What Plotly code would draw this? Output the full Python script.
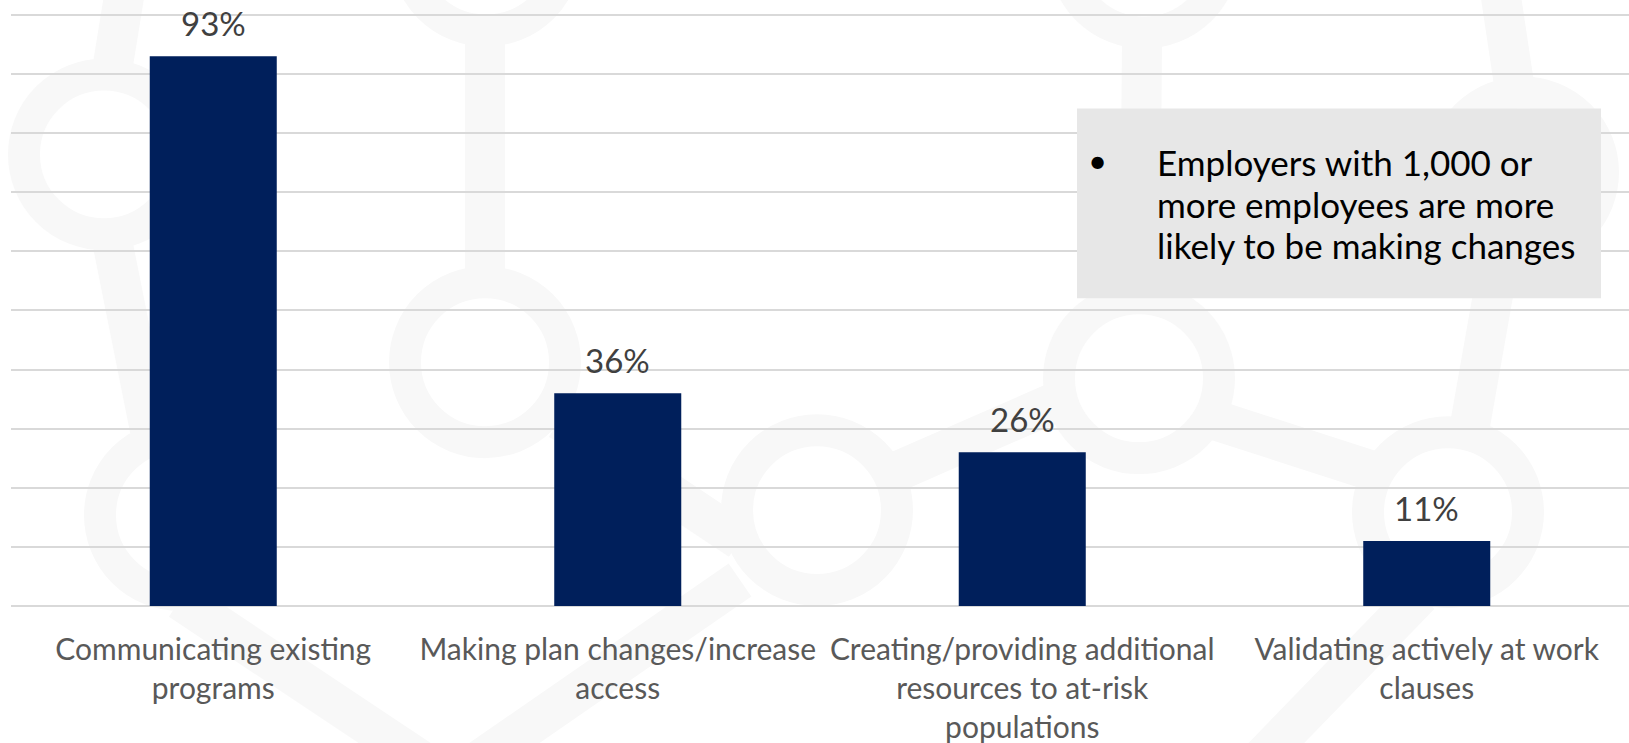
import plotly.graph_objects as go

# Survey responses: share of employers taking each action
categories = [
    "Communicating existing<br>programs",
    "Making plan changes/increase<br>access",
    "Creating/providing additional<br>resources to at-risk<br>populations",
    "Validating actively at work<br>clauses",
]
values = [93, 36, 26, 11]
value_labels = ["93%", "36%", "26%", "11%"]

callout_lines = [
    "Employers with 1,000 or",
    "more employees are more",
    "likely to be making changes",
]

BAR_COLOR = "#001F5B"
VALUE_COLOR = "#404040"
CAT_COLOR = "#595959"
GRID_COLOR = "#D9D9D9"
MARK_COLOR = "#F8F8F8"
FONT = "Lato"

W, H = 1629, 743
M_L, M_R, M_T, M_B = 11, 0, 11.5, 137
PW, PH = W - M_L - M_R, H - M_T - M_B


def px(x):
    """pixel column -> paper x"""
    return (x - M_L) / PW


def py(y):
    """pixel row (from top) -> paper y"""
    return (H - M_B - y) / PH


fig = go.Figure()

# faint network watermark behind the chart: rings joined by thick links
rings = [(104, 154), (486, -50), (485, 362), (180, 515), (817, 510),
         (1144, -48), (1139, 378), (1523, 172), (1448, 512)]
links = [((125, -10), (112, 70)), ((112, 240), (150, 430)),
         ((485, 40), (485, 270)), ((560, 420), (740, 540)),
         ((180, 600), (420, 760)), ((740, 580), (480, 760)),
         ((900, 470), (1060, 400)), ((1215, 420), (1370, 470)),
         ((1142, 40), (1140, 290)), ((1500, -10), (1515, 90)),
         ((1500, 255), (1470, 425)), ((1420, 595), (1260, 760))]
for (xa, ya), (xb, yb) in links:
    fig.add_shape(type="line", xref="paper", yref="paper",
                  x0=px(xa), y0=py(ya), x1=px(xb), y1=py(yb),
                  line=dict(color=MARK_COLOR, width=40), layer="below")
for cx, cy in rings:
    r = 80
    fig.add_shape(type="circle", xref="paper", yref="paper",
                  x0=px(cx - r), x1=px(cx + r), y0=py(cy + r), y1=py(cy - r),
                  line=dict(color=MARK_COLOR, width=32), layer="below")

fig.add_trace(go.Bar(
    x=categories,
    y=values,
    marker=dict(color=BAR_COLOR, line=dict(width=0)),
    width=0.314,
    hoverinfo="skip",
))

# value labels above each bar
for cat, val, lab in zip(categories, values, value_labels):
    fig.add_annotation(
        x=cat, y=val, text=lab, showarrow=False,
        xref="x", yref="y", yanchor="middle", yshift=33,
        font=dict(family=FONT, size=33, color=VALUE_COLOR),
    )

# grey callout box with a bulleted note
fig.add_shape(
    type="rect", xref="paper", yref="paper",
    x0=px(1077), x1=px(1601), y0=py(298), y1=py(108),
    fillcolor="#E7E7E7", line=dict(width=0), layer="above",
)
fig.add_annotation(
    xref="paper", yref="paper", x=px(1086), y=py(160),
    text="•", showarrow=False, xanchor="left", yanchor="middle",
    font=dict(family=FONT, size=33, color="#000000"),
)
for i, line in enumerate(callout_lines):
    fig.add_annotation(
        xref="paper", yref="paper", x=px(1155), y=py(162 + 41.5 * i),
        text=line, showarrow=False, xanchor="left", yanchor="middle",
        font=dict(family=FONT, size=35, color="#000000"),
    )

fig.update_layout(
    width=W, height=H,
    margin=dict(l=M_L, r=M_R, t=M_T, b=M_B, pad=0),
    paper_bgcolor="white", plot_bgcolor="rgba(0,0,0,0)",
    showlegend=False,
    bargap=0.686,
    font=dict(family=FONT, color=CAT_COLOR),
)
fig.update_xaxes(
    showgrid=False, zeroline=False, showline=False,
    ticks="", ticklabelstandoff=23,
    tickfont=dict(family=FONT, size=30, color=CAT_COLOR),
)
fig.update_yaxes(
    range=[0, 100.5], tickvals=list(range(0, 101, 10)), showticklabels=False,
    showgrid=True, gridcolor=GRID_COLOR, gridwidth=2,
    zeroline=True, zerolinecolor=GRID_COLOR, zerolinewidth=2,
    showline=False, ticks="",
)

fig.write_html("out.html")
